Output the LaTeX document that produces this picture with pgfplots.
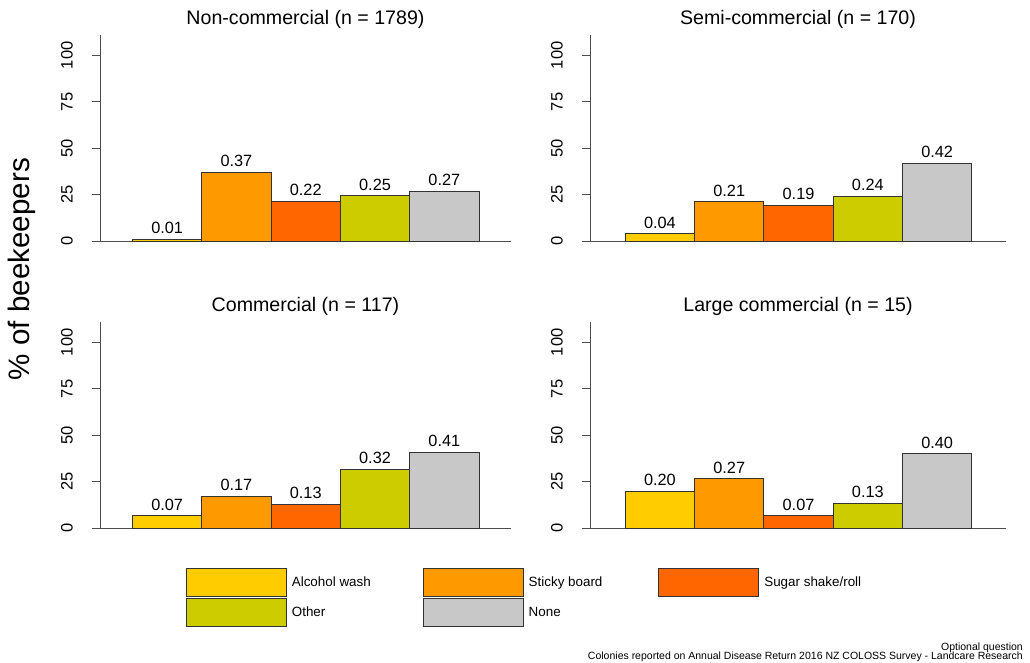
\documentclass[border=0pt]{standalone}
\usepackage{fontspec}
\setmainfont{Liberation Sans}
\usepackage{pgfplots}
\pgfplotsset{compat=1.18}

\definecolor{cAW}{HTML}{FFCC00}
\definecolor{cSB}{HTML}{FF9900}
\definecolor{cSS}{HTML}{FF6600}
\definecolor{cOT}{HTML}{CCCC00}
\definecolor{cNO}{HTML}{C8C8C8}
\definecolor{axgray}{HTML}{4D4D4D}
\definecolor{bargray}{HTML}{333333}

\pgfplotsset{
 panel/.style={
  scale only axis, height=206pt,
  ymin=0, ymax=110.8, enlargelimits=false,
  ybar, bar width=1,
  axis x line=bottom, axis y line=left,
  axis line style={-, draw=axgray, line width=1pt},
  xtick=\empty,
  ytick={0,25,50,75,100},
  tick align=outside,
  major tick length=8pt,
  tick style={draw=axgray, line width=1pt},
  y tick label style={rotate=90, anchor=south, inner sep=0pt, font=\fontsize{16.5}{18}\selectfont},
  /pgf/number format/assume math mode=true,
  yticklabel shift=19pt,
  title style={at={(0.5,1)}, anchor=base, yshift=4.5pt, inner sep=0pt, font=\fontsize{19.6}{22}\selectfont},
  point meta=explicit symbolic,
  nodes near coords,
  every node near coord/.append style={anchor=base, yshift=5.6pt, inner sep=0pt, font=\fontsize{16.3}{18}\selectfont, text=black},
  clip=false,
 },
 leftpanel/.style={width=411pt, xmin=-0.969, xmax=4.962},
 rightpanel/.style={width=416pt, xmin=-1.009, xmax=4.994},
 mybar/.style={fill=#1, draw=bargray, line width=0.9pt, bar shift=0pt,
   legend image code/.code={\draw[fill=#1, draw=bargray, line width=0.9pt] (0pt,-13.7pt) rectangle (100pt,13.7pt);}},
}

\begin{document}
\begin{tikzpicture}
\useasboundingbox (0pt,0pt) rectangle (1030pt,663pt);

% Non-commercial
\begin{axis}[panel, leftpanel, at={(100pt,421.7pt)}, anchor=south west,
  title={Non-commercial (n = 1789)}]
\addplot[mybar=cAW] coordinates {(0,1.2) [0.01]};
\addplot[mybar=cSB] coordinates {(1,37.2) [0.37]};
\addplot[mybar=cSS] coordinates {(2,21.5) [0.22]};
\addplot[mybar=cOT] coordinates {(3,24.4) [0.25]};
\addplot[mybar=cNO] coordinates {(4,26.9) [0.27]};
\end{axis}

% Semi-commercial
\begin{axis}[panel, rightpanel, at={(590pt,421.7pt)}, anchor=south west,
  title={Semi-commercial (n = 170)}]
\addplot[mybar=cAW] coordinates {(0,4.0) [0.04]};
\addplot[mybar=cSB] coordinates {(1,21.2) [0.21]};
\addplot[mybar=cSS] coordinates {(2,19.4) [0.19]};
\addplot[mybar=cOT] coordinates {(3,24.1) [0.24]};
\addplot[mybar=cNO] coordinates {(4,41.8) [0.42]};
\end{axis}

% Commercial
\begin{axis}[panel, leftpanel, at={(100pt,134.7pt)}, anchor=south west,
  title={Commercial (n = 117)}]
\addplot[mybar=cAW] coordinates {(0,6.8) [0.07]};
\addplot[mybar=cSB] coordinates {(1,17.1) [0.17]};
\addplot[mybar=cSS] coordinates {(2,12.8) [0.13]};
\addplot[mybar=cOT] coordinates {(3,31.6) [0.32]};
\addplot[mybar=cNO] coordinates {(4,41.0) [0.41]};
\end{axis}

% Large commercial
\begin{axis}[panel, rightpanel, at={(590pt,134.7pt)}, anchor=south west,
  title={Large commercial (n = 15)},
  legend columns=3,
  legend style={at={(-0.9712,-0.1942)}, anchor=north west, draw=none, fill=none,
    inner sep=0pt, outer sep=0pt, font=\fontsize{13.4}{15}\selectfont,
    cells={anchor=west, inner sep=0pt},
    column sep=3pt, row sep=1.6pt,
    /tikz/column 2/.style={column sep=50pt},
    /tikz/column 4/.style={column sep=54pt}}]
\addplot[mybar=cAW] coordinates {(0,20.0) [0.20]};
\addplot[mybar=cSB] coordinates {(1,26.7) [0.27]};
\addplot[mybar=cSS] coordinates {(2,6.7) [0.07]};
\addplot[mybar=cOT] coordinates {(3,13.3) [0.13]};
\addplot[mybar=cNO] coordinates {(4,40.0) [0.40]};
\legend{Alcohol wash, Sticky board, Sugar shake/roll, Other, None}
\end{axis}

\node[rotate=90, inner sep=0pt, font=\fontsize{29.6}{34}\selectfont] at (22pt,394pt) {\% of beekeepers};

\node[anchor=base east, inner sep=0pt, font=\fontsize{10.5}{12}\selectfont] at (1023pt,12.5pt) {Optional question};
\node[anchor=base east, inner sep=0pt, font=\fontsize{10.5}{12}\selectfont] at (1023pt,3.5pt) {Colonies reported on Annual Disease Return 2016 NZ COLOSS Survey - Landcare Research};
\end{tikzpicture}
\end{document}
